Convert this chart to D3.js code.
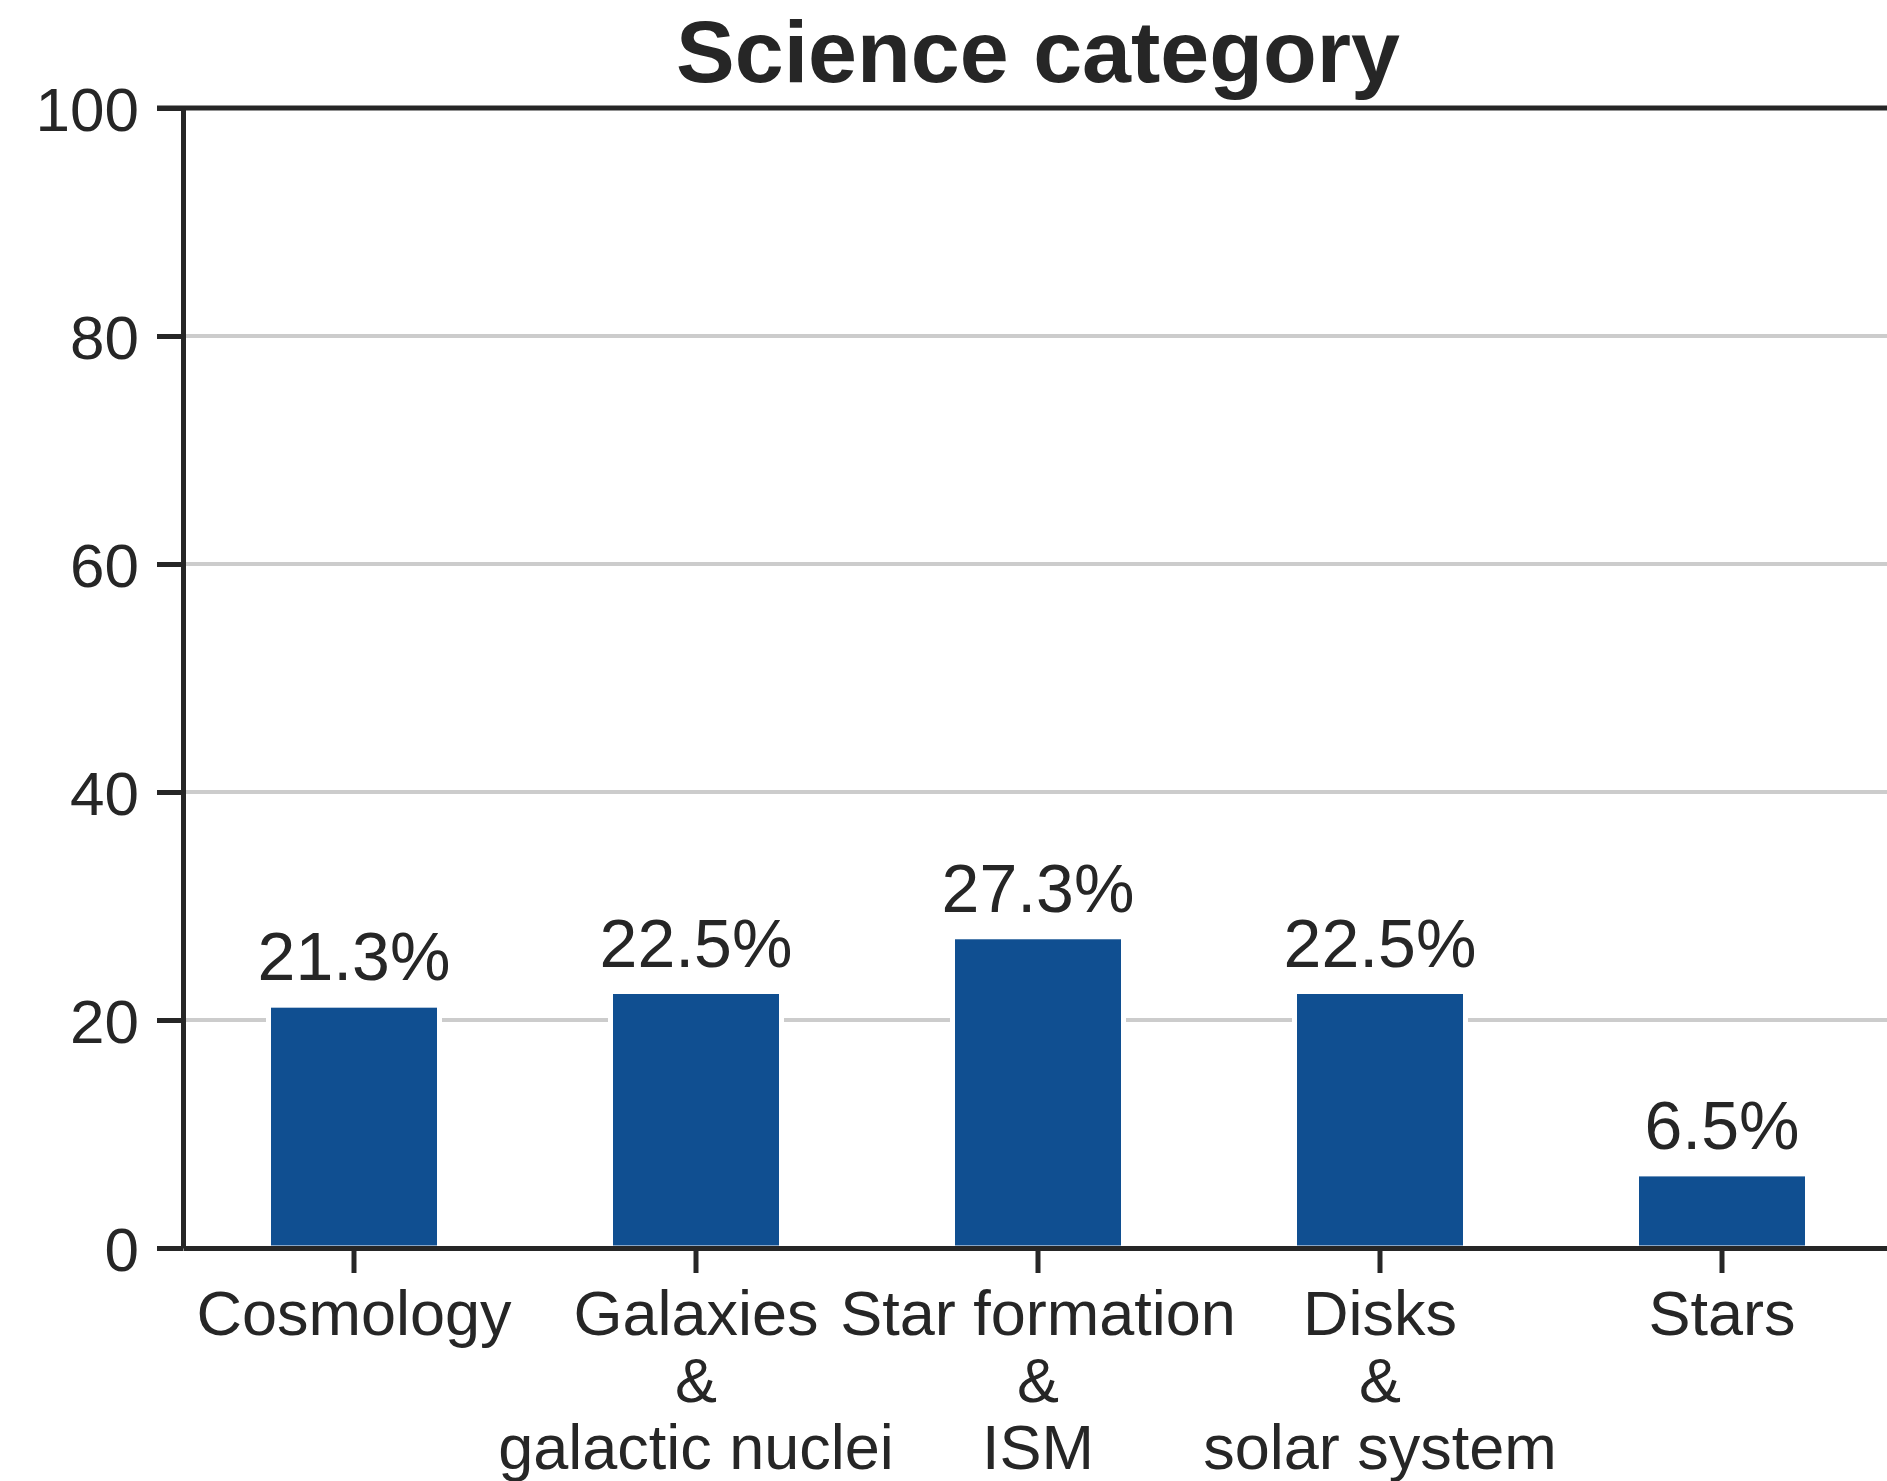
<!DOCTYPE html>
<html>
<head>
<meta charset="utf-8">
<script src="https://cdn.jsdelivr.net/npm/d3@7"></script>
<style>
  body { margin: 0; background: #fff; }
  svg { display: block; }
  text { font-family: "Liberation Sans", Arial, sans-serif; fill: #262626; }
</style>
</head>
<body>
<div id="chart"></div>
<script>
// donnees
var categories = ["Cosmology", "Galaxies & galactic nuclei", "Star formation & ISM", "Disks & solar system", "Stars"];
var labelLines = [["Cosmology"], ["Galaxies", "&", "galactic nuclei"], ["Star formation", "&", "ISM"], ["Disks", "&", "solar system"], ["Stars"]];
var percents = [21.3, 22.5, 27.3, 22.5, 6.5];
var yTicks = [0, 20, 40, 60, 80, 100];
var gridTicks = [20, 40, 60, 80];

var W = 1887, H = 1481;
// attention: "top" est reserve par window, d'ou les noms
var plotLeft = 183, plotRight = 1893, plotTop = 108, plotBottom = 1248;
var ink = "#262626";

var svg = d3.select("#chart").append("svg")
    .attr("width", W)
    .attr("height", H);

var x = d3.scaleBand()
    .domain(categories)
    .range([plotLeft, plotRight])
    .paddingInner(0.5)
    .paddingOuter(0.25);

var y = d3.scaleLinear()
    .domain([0, 100])
    .range([plotBottom, plotTop]);

// grille
svg.append("g").selectAll("line")
    .data(gridTicks)
    .enter().append("line")
    .attr("x1", plotLeft).attr("x2", plotRight)
    .attr("y1", function(d) { return y(d); })
    .attr("y2", function(d) { return y(d); })
    .attr("stroke", "#cccccc")
    .attr("stroke-width", 4);

// barres
svg.append("g").selectAll("rect")
    .data(percents)
    .enter().append("rect")
    .attr("x", function(d, i) { return x(categories[i]); })
    .attr("width", x.bandwidth())
    .attr("y", function(d) { return y(d); })
    .attr("height", function(d) { return plotBottom - y(d); })
    .attr("fill", "#104f91")
    .attr("stroke", "#ffffff")
    .attr("stroke-width", 5);

// valeurs au dessus
svg.append("g").selectAll("text")
    .data(percents)
    .enter().append("text")
    .attr("x", function(d, i) { return x(categories[i]) + x.bandwidth() / 2; })
    .attr("y", function(d) { return y(d) - 25; })
    .attr("text-anchor", "middle")
    .style("font-size", "68px")
    .text(function(d) { return d.toFixed(1) + "%"; });

// axe Y
var yAxis = svg.append("g")
    .attr("transform", "translate(" + plotLeft + ",0)")
    .call(d3.axisLeft(y).tickValues(yTicks).tickSize(26).tickSizeOuter(0).tickPadding(18));
yAxis.select(".domain").attr("stroke", ink).attr("stroke-width", 5);
yAxis.selectAll(".tick line").attr("stroke", ink).attr("stroke-width", 5);
yAxis.selectAll(".tick text")
    .attr("dy", "0.36em")
    .style("font-size", "62px")
    .style("font-family", "Liberation Sans, Arial, sans-serif")
    .attr("fill", ink);

// axe X
var xAxis = svg.append("g")
    .attr("transform", "translate(0," + plotBottom + ")")
    .call(d3.axisBottom(x).tickSize(25).tickSizeOuter(0));
xAxis.select(".domain").attr("stroke", ink).attr("stroke-width", 5);
xAxis.selectAll(".tick line").attr("stroke", ink).attr("stroke-width", 5);
xAxis.selectAll(".tick text").remove();
xAxis.selectAll(".tick").each(function(d, i) {
    var t = d3.select(this).append("text")
        .attr("text-anchor", "middle")
        .attr("y", 87)
        .attr("fill", ink)
        .style("font-size", "63px")
        .style("font-family", "Liberation Sans, Arial, sans-serif");
    labelLines[i].forEach(function(line, j) {
        t.append("tspan").attr("x", 0).attr("y", 87 + j * 67).text(line);
    });
});

// cadre du haut
svg.append("line")
    .attr("x1", plotLeft - 26).attr("x2", plotRight)
    .attr("y1", plotTop).attr("y2", plotTop)
    .attr("stroke", ink)
    .attr("stroke-width", 5);

// titre
svg.append("text")
    .attr("x", (plotLeft + plotRight) / 2)
    .attr("y", 82)
    .attr("text-anchor", "middle")
    .style("font-size", "88px")
    .style("font-weight", "bold")
    .text("Science category");
</script>
</body>
</html>
